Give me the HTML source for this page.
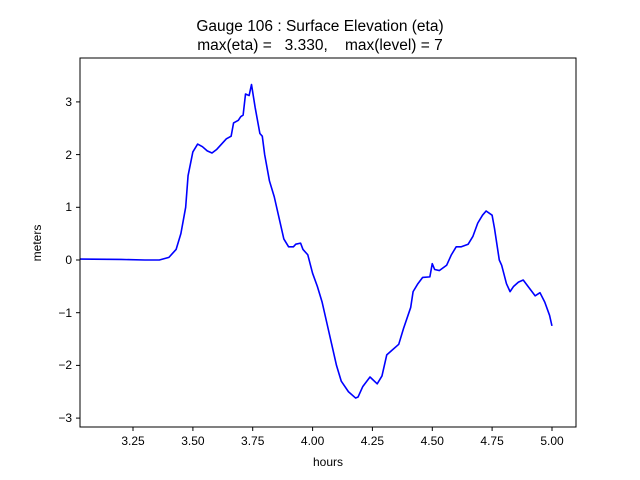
<!DOCTYPE html>
<html><head><meta charset="utf-8"><style>body{margin:0;background:#fff}svg{display:block}text{font-family:"Liberation Sans","DejaVu Sans",sans-serif;fill:#000}</style></head>
<body>
<svg width="640" height="480" xmlns="http://www.w3.org/2000/svg">
<rect width="640" height="480" fill="#fff"/>
<text x="320" y="31" font-size="15.5" text-anchor="middle">Gauge 106 : Surface Elevation (eta)</text>
<text x="320" y="50" font-size="15.5" text-anchor="middle" xml:space="preserve">max(eta) =   3.330,    max(level) = 7</text>
<clipPath id="c"><rect x="80" y="58" width="496" height="369"/></clipPath>
<g clip-path="url(#c)">
<g transform="translate(133,260) scale(239.4,-52.7) translate(-3.25,0)">
<polyline fill="none" stroke="#0000ff" stroke-width="1.6" vector-effect="non-scaling-stroke" stroke-linejoin="round" points="3.0,0.02 3.2,0.01 3.3,0.0 3.36,0.0 3.40,0.05 3.43,0.2 3.45,0.5 3.47,1.0 3.48,1.6 3.50,2.05 3.52,2.2 3.54,2.15 3.56,2.07 3.58,2.03 3.60,2.1 3.62,2.2 3.64,2.3 3.66,2.35 3.67,2.6 3.69,2.65 3.70,2.72 3.71,2.75 3.72,3.15 3.735,3.12 3.745,3.33 3.76,2.9 3.78,2.4 3.79,2.35 3.80,2.0 3.82,1.5 3.84,1.2 3.86,0.8 3.88,0.4 3.90,0.25 3.92,0.25 3.93,0.3 3.95,0.32 3.96,0.2 3.98,0.1 4.0,-0.25 4.02,-0.5 4.04,-0.8 4.06,-1.2 4.08,-1.6 4.10,-2.0 4.12,-2.3 4.15,-2.5 4.18,-2.62 4.19,-2.6 4.21,-2.4 4.24,-2.22 4.27,-2.35 4.29,-2.2 4.31,-1.8 4.33,-1.72 4.36,-1.6 4.38,-1.3 4.41,-0.9 4.42,-0.6 4.44,-0.45 4.46,-0.33 4.49,-0.32 4.50,-0.07 4.51,-0.18 4.53,-0.2 4.56,-0.1 4.58,0.1 4.60,0.25 4.62,0.25 4.65,0.3 4.67,0.45 4.69,0.7 4.71,0.85 4.725,0.93 4.75,0.85 4.76,0.6 4.78,0.0 4.79,-0.1 4.81,-0.45 4.825,-0.6 4.84,-0.5 4.86,-0.42 4.88,-0.38 4.90,-0.5 4.93,-0.68 4.95,-0.62 4.97,-0.8 4.99,-1.05 5.00,-1.25"/>
</g></g>
<rect x="80" y="58" width="496" height="369" fill="none" stroke="#000" stroke-width="1"/>
<g stroke="#000" stroke-width="1">
<line x1="133" y1="427" x2="133" y2="431"/><line x1="192.9" y1="427" x2="192.9" y2="431"/><line x1="252.7" y1="427" x2="252.7" y2="431"/><line x1="312.6" y1="427" x2="312.6" y2="431"/><line x1="372.4" y1="427" x2="372.4" y2="431"/><line x1="432.3" y1="427" x2="432.3" y2="431"/><line x1="492.1" y1="427" x2="492.1" y2="431"/><line x1="552" y1="427" x2="552" y2="431"/>
<line x1="76" y1="101.9" x2="80" y2="101.9"/><line x1="76" y1="154.6" x2="80" y2="154.6"/><line x1="76" y1="207.3" x2="80" y2="207.3"/><line x1="76" y1="260" x2="80" y2="260"/><line x1="76" y1="312.7" x2="80" y2="312.7"/><line x1="76" y1="365.4" x2="80" y2="365.4"/><line x1="76" y1="418.1" x2="80" y2="418.1"/>
</g>
<g font-size="12" text-anchor="middle">
<text x="133" y="445">3.25</text><text x="192.9" y="445">3.50</text><text x="252.7" y="445">3.75</text><text x="312.6" y="445">4.00</text><text x="372.4" y="445">4.25</text><text x="432.3" y="445">4.50</text><text x="492.1" y="445">4.75</text><text x="552" y="445">5.00</text>
<text x="328" y="466">hours</text>
</g>
<g font-size="12" text-anchor="end">
<text x="72" y="106">3</text><text x="72" y="159">2</text><text x="72" y="211">1</text><text x="72" y="264">0</text><text x="72" y="317">−1</text><text x="72" y="369">−2</text><text x="72" y="422">−3</text>
</g>
<text transform="translate(41,243) rotate(-90)" font-size="12" text-anchor="middle">meters</text>
</svg>
</body></html>
